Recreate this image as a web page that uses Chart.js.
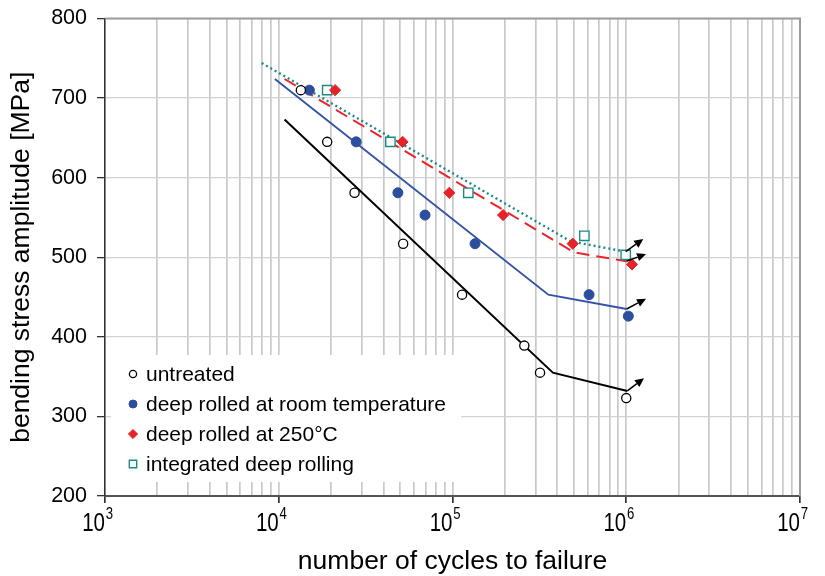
<!DOCTYPE html>
<html>
<head>
<meta charset="utf-8">
<script src="https://cdn.jsdelivr.net/npm/chart.js@4.4.1/dist/chart.umd.min.js"></script>
<style>
  html, body { margin: 0; padding: 0; background: #fff; }
  #wrap { width: 825px; height: 576px; }
</style>
</head>
<body>
<div id="wrap"><canvas id="snChart" width="825" height="576"></canvas></div>
<script>
// measured points (cycles to failure, stress amplitude in MPa)
const untreatedN = [13400, 19000, 27300, 52000, 113500, 259000, 319000, 1000000];
const untreatedS = [710, 645, 581, 517, 453, 389, 355, 323];
const roomN = [15000, 27900, 48500, 69500, 134800, 611000, 1028000];
const roomS = [710, 645, 581, 553, 517, 453, 426];
const hotN = [21100, 51600, 95900, 195500, 492000, 1079000];
const hotS = [710, 645, 581, 553, 517, 491];
const integratedN = [19000, 43900, 123300, 574000, 993000];
const integratedS = [710, 645, 581, 527, 503];

// S-N fit lines (start, knee, end)
const untreatedFitN = [10800, 378000, 1014000];
const untreatedFitS = [673, 355, 332];
const roomFitN = [9500, 356000, 1005000];
const roomFitS = [724, 453, 435];
const hotFitN = [10800, 502000, 1002000];
const hotFitS = [724, 506, 495];
const integratedFitN = [7980, 478000, 993000];
const integratedFitS = [744, 520, 507];

// run-out arrows
const arrowFromN = [1014000, 1005000, 1002000, 993000];
const arrowFromS = [332, 435, 495, 507];
const arrowToN = [1265000, 1300000, 1300000, 1253000];
const arrowToS = [348, 448, 504, 523];

const seriesLabels = ['untreated', 'deep rolled at room temperature', 'deep rolled at 250°C', 'integrated deep rolling'];
const decadeExponents = [3, 4, 5, 6, 7];
const stressTicks = [200, 300, 400, 500, 600, 700, 800];

const FONT = "'Liberation Sans', Arial, sans-serif";

function toXY(xs, ys) {
  return xs.map((x, i) => ({ x: x, y: ys[i] }));
}

document.addEventListener('DOMContentLoaded', function() {
  const ctx = document.getElementById('snChart').getContext('2d');
  if (!ctx) {
    console.error('Canvas not found!');
    return;
  }

  // all ticks 1..9 x 10^n for the log grid
  const cycleTicks = [];
  decadeExponents.forEach(function(e) {
    for (let m = 1; m <= 9; m++) {
      if (e === 7 && m > 1) break;
      cycleTicks.push(m * Math.pow(10, e));
    }
  });
  const isDecade = v => decadeExponents.some(e => Math.abs(v - Math.pow(10, e)) < 1e-6 * v);

  const markerStyles = [
    { pointStyle: 'circle', radius: 4.6, legendRadius: 3.6, bg: '#ffffff', border: '#000000', bw: 1.3 },
    { pointStyle: 'circle', radius: 5, legendRadius: 4, bg: '#2b4e9f', border: '#2b4e9f', bw: 1 },
    { pointStyle: 'rectRot', radius: 5.6, legendRadius: 4.6, bg: '#e52129', border: '#e52129', bw: 1 },
    { pointStyle: 'rect', radius: 6.6, legendRadius: 5.2, bg: '#ffffff', border: '#1b8a84', bw: 1.4 }
  ];

  const pointSets = [toXY(untreatedN, untreatedS), toXY(roomN, roomS), toXY(hotN, hotS), toXY(integratedN, integratedS)];
  const datasets = pointSets.map(function(pts, i) {
    const m = markerStyles[i];
    return {
      type: 'scatter',
      label: seriesLabels[i],
      data: pts,
      pointStyle: m.pointStyle,
      pointRadius: m.radius,
      pointBackgroundColor: m.bg,
      pointBorderColor: m.border,
      pointBorderWidth: m.bw,
      showLine: false,
      order: 0,
      inLegend: true
    };
  });

  datasets.push(
    { type: 'line', label: 'untreated fit', data: toXY(untreatedFitN, untreatedFitS),
      borderColor: '#000000', borderWidth: 2, pointRadius: 0, tension: 0, order: 1 },
    { type: 'line', label: 'room fit', data: toXY(roomFitN, roomFitS),
      borderColor: '#3553a6', borderWidth: 1.9, pointRadius: 0, tension: 0, order: 1 },
    { type: 'line', label: '250 fit', data: toXY(hotFitN, hotFitS),
      borderColor: '#e8262c', borderWidth: 2, borderDash: [13, 7], pointRadius: 0, tension: 0, order: 1 },
    { type: 'line', label: 'integrated fit', data: toXY(integratedFitN, integratedFitS),
      borderColor: '#1b8a84', borderWidth: 2.4, borderDash: [2, 3], pointRadius: 0, tension: 0, order: 1 }
  );

  // frame, white legend box inside the plot, decade labels and run-out arrows
  const framePlugin = {
    id: 'frameAndLegend',
    afterDraw(chart) {
      // x decade labels: "10" with raised exponent
      const c = chart.ctx;
      const a = chart.chartArea;
      const xs = chart.scales.x;
      c.save();
      c.fillStyle = '#000';
      c.textBaseline = 'alphabetic';
      decadeExponents.forEach(function(e) {
        const px = xs.getPixelForValue(Math.pow(10, e));
        c.save();
        c.translate(px, a.bottom + 35);
        c.scale(0.82, 1);
        c.font = '25px ' + FONT;
        c.textAlign = 'right';
        c.fillText('10', 0, 0);
        c.font = '16px ' + FONT;
        c.textAlign = 'left';
        c.fillText(String(e), 1, -12);
        c.restore();
      });
      c.restore();
    },
    beforeDatasetsDraw(chart) {
      const c = chart.ctx;
      const a = chart.chartArea;
      c.save();
      c.strokeStyle = '#9c9c9c';
      c.lineWidth = 2;
      c.beginPath();
      c.moveTo(a.left, a.top);
      c.lineTo(a.right, a.top);
      c.lineTo(a.right, a.bottom);
      c.stroke();

      const bx = a.left + 6, by = 355, bw = 350, bh = 127;
      c.fillStyle = '#ffffff';
      c.fillRect(bx, by, bw, bh);

      c.font = '21px ' + FONT;
      c.textBaseline = 'middle';
      c.textAlign = 'left';
      let row = 0;
      chart.data.datasets.forEach(function(ds, i) {
        if (!ds.inLegend) return;
        const m = markerStyles[i];
        const y = by + 19 + row * 30;
        const x = bx + 22;
        c.fillStyle = m.bg;
        c.strokeStyle = m.border;
        c.lineWidth = m.bw;
        Chart.helpers.drawPoint(c, {
          pointStyle: m.pointStyle, radius: m.legendRadius, rotation: 0, borderWidth: m.bw
        }, x, y);
        c.fillStyle = '#000';
        c.fillText(ds.label, x + 13, y + 1);
        row++;
      });
      c.restore();
    },
    afterDatasetsDraw(chart) {
      const c = chart.ctx;
      const xs = chart.scales.x, ys = chart.scales.y;
      c.save();
      c.strokeStyle = '#000';
      c.fillStyle = '#000';
      c.lineWidth = 1.5;
      for (let i = 0; i < arrowFromN.length; i++) {
        const x0 = xs.getPixelForValue(arrowFromN[i]);
        const y0 = ys.getPixelForValue(arrowFromS[i]);
        const x1 = xs.getPixelForValue(arrowToN[i]);
        const y1 = ys.getPixelForValue(arrowToS[i]);
        const ang = Math.atan2(y1 - y0, x1 - x0);
        const len = 9, half = 4.2;
        const bxp = x1 - len * Math.cos(ang), byp = y1 - len * Math.sin(ang);
        c.beginPath();
        c.moveTo(x0, y0);
        c.lineTo(bxp, byp);
        c.stroke();
        c.beginPath();
        c.moveTo(x1, y1);
        c.lineTo(bxp + half * Math.sin(ang), byp - half * Math.cos(ang));
        c.lineTo(bxp - half * Math.sin(ang), byp + half * Math.cos(ang));
        c.closePath();
        c.fill();
      }
      c.restore();
    }
  };

  new Chart(ctx, {
    data: { datasets: datasets },
    options: {
      responsive: false,
      animation: false,
      layout: { padding: { top: 18.5, right: 25, left: 0, bottom: 0 } },
      plugins: {
        legend: { display: false },
        tooltip: { enabled: false }
      },
      scales: {
        x: {
          type: 'logarithmic',
          min: 1000,
          max: 10000000,
          afterFit: function(scale) {
            scale.height = 80;
            scale.paddingLeft = 0;
            scale.paddingRight = 0;
          },
          afterBuildTicks: function(scale) {
            scale.ticks = cycleTicks.map(v => ({ value: v, major: isDecade(v) }));
          },
          border: { color: '#555555', width: 2 },
          grid: {
            color: '#c9c9c9',
            lineWidth: 1.7,
            tickLength: 7,
            tickColor: function(context) {
              return context.tick && isDecade(context.tick.value) ? '#333333' : 'rgba(0,0,0,0)';
            }
          },
          ticks: {
            autoSkip: false,
            maxRotation: 0,
            display: true,
            color: 'rgba(0,0,0,0)',
            callback: function() { return ''; }
          },
          title: {
            display: true,
            text: 'number of cycles to failure',
            color: '#000',
            font: { family: FONT, size: 26.5 },
            padding: { top: 0, bottom: -2 }
          }
        },
        y: {
          min: 200,
          max: 800,
          afterFit: function(scale) {
            scale.width = 105;
            scale.paddingTop = 0;
            scale.paddingBottom = 0;
          },
          afterBuildTicks: function(scale) {
            scale.ticks = stressTicks.map(v => ({ value: v }));
          },
          border: { color: '#333333', width: 1.5 },
          grid: { color: '#d3d3d3', lineWidth: 1.3, tickLength: 8, tickColor: '#333333' },
          ticks: {
            padding: 10,
            color: '#000',
            font: { family: FONT, size: 21.5 }
          },
          title: {
            display: true,
            text: 'bending stress amplitude [MPa]',
            color: '#000',
            font: { family: FONT, size: 26.5 },
            padding: { top: 6, bottom: 0 }
          }
        }
      }
    },
    plugins: [framePlugin]
  });
});
</script>
</body>
</html>
